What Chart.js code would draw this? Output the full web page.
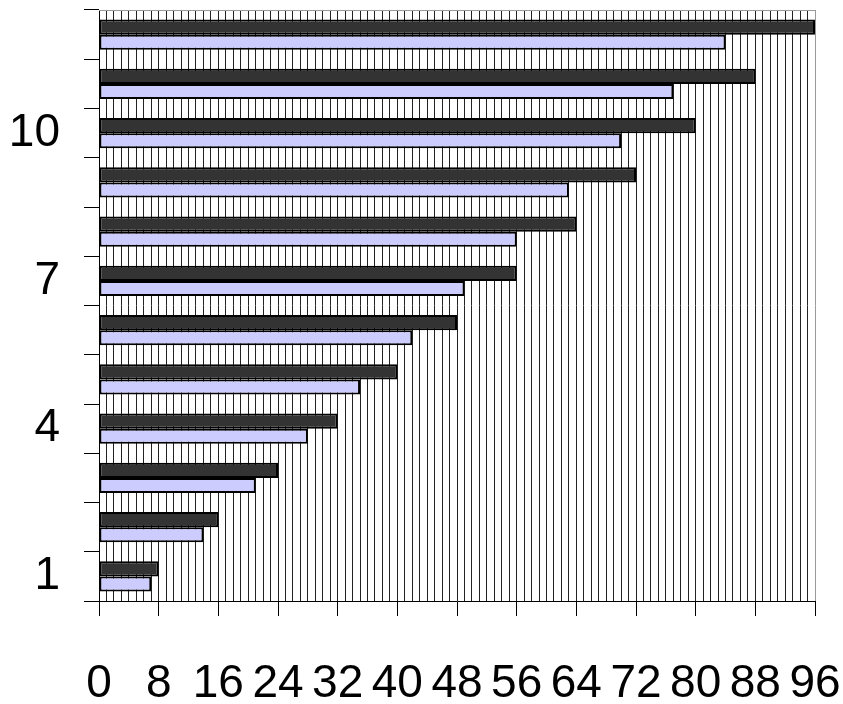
<!DOCTYPE html>
<html>
<head>
<meta charset="utf-8">
<style>
  html, body { margin: 0; padding: 0; background: #fff; }
  #wrap { width: 843px; height: 704px; }
</style>
<script src="https://cdn.jsdelivr.net/npm/chart.js@4"></script>
</head>
<body>
<div id="wrap"><canvas id="myChart"></canvas></div>
<script>
// categories (bottom to top)
const categories = ['1', '2', '3', '4', '5', '6', '7', '8', '9', '10', '11', '12'];
// dark series and light series
const darkValues = [8, 16, 24, 32, 40, 48, 56, 64, 72, 80, 88, 96];
const lightValues = [7, 14, 21, 28, 35, 42, 49, 56, 63, 70, 77, 84];
// x axis range and labelled step
const xMax = 96;
const xLabelStep = 8;

const FONT = { family: "'Liberation Sans', Arial, sans-serif", size: 46 };

// top frame line (the reference has a grey border along the top)
const topBorder = {
    id: 'topBorder',
    afterDraw(chart) {
        const { ctx, chartArea } = chart;
        ctx.save();
        ctx.strokeStyle = '#999';
        ctx.lineWidth = 1;
        ctx.beginPath();
        ctx.moveTo(chartArea.left, Math.round(chartArea.top) + 0.5);
        ctx.lineTo(chartArea.right, Math.round(chartArea.top) + 0.5);
        ctx.stroke();
        ctx.restore();
    }
};

// no label overhang padding, the frame is fixed by layout padding
function noOverhang(scale) {
    scale.paddingTop = 0;
    scale.paddingBottom = 0;
    scale.paddingLeft = 0;
    scale.paddingRight = 0;
}

const ctx = document.getElementById('myChart').getContext('2d');
new Chart(ctx, {
    type: 'bar',
    data: {
        labels: categories,
        datasets: [{
            data: darkValues,
            backgroundColor: '#333333',
            borderColor: '#000',
            borderWidth: 2,
            borderSkipped: false,
            barPercentage: 1,
            categoryPercentage: 0.61
        }, {
            data: lightValues,
            backgroundColor: '#ccccff',
            borderColor: '#000',
            borderWidth: 2,
            borderSkipped: false,
            barPercentage: 1,
            categoryPercentage: 0.61
        }]
    },
    options: {
        indexAxis: 'y',
        responsive: true,
        maintainAspectRatio: false,
        animation: false,
        layout: { padding: { top: 10, right: 28, left: 0, bottom: 0 } },
        plugins: {
            legend: { display: false },
            tooltip: { enabled: false }
        },
        scales: {
            x: {
                min: 0,
                max: xMax,
                afterFit(scale) { scale.height = 103; noOverhang(scale); },
                ticks: {
                    stepSize: 1,
                    autoSkip: false,
                    maxRotation: 0,
                    minRotation: 0,
                    padding: 41,
                    color: '#000',
                    font: FONT,
                    callback: (v) => (v % xLabelStep === 0 ? v : '')
                },
                grid: {
                    color: (c) => (c.tick && c.tick.value === xMax ? '#999' : '#222'),
                    lineWidth: 1,
                    tickLength: 15,
                    tickColor: (c) => (c.tick && c.tick.value % xLabelStep === 0 ? '#000' : 'rgba(0,0,0,0)')
                },
                border: { color: '#000', width: 1 }
            },
            y: {
                reverse: true,
                afterFit(scale) { scale.width = 99; noOverhang(scale); },
                ticks: {
                    autoSkip: false,
                    padding: 24,
                    color: '#000',
                    font: FONT,
                    callback: function (v, i) { return i % 3 === 0 ? this.getLabelForValue(v) : ''; }
                },
                grid: {
                    offset: true,
                    drawOnChartArea: false,
                    tickLength: 15,
                    tickColor: '#000'
                },
                border: { color: '#000', width: 1 }
            }
        }
    },
    plugins: [topBorder]
});
</script>
</body>
</html>
